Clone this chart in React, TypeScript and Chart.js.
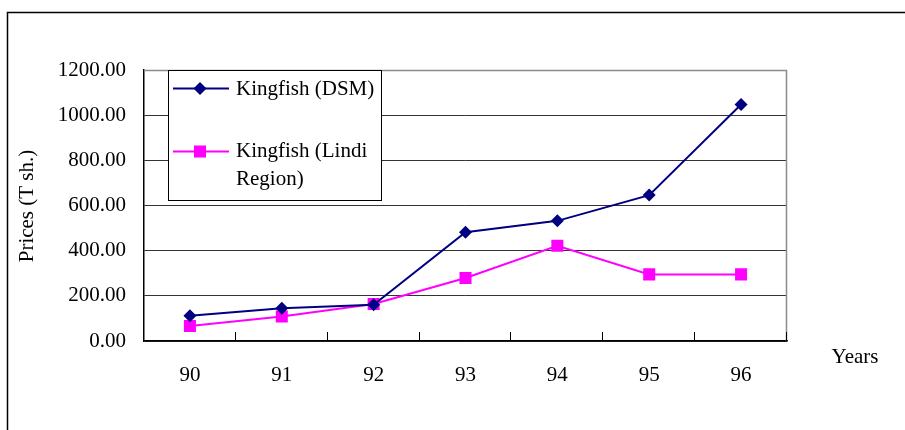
import React, { useEffect, useRef } from "react";
import { Chart, registerables } from "chart.js";

Chart.register(...registerables);

const years = ["90", "91", "92", "93", "94", "95", "96"];
const dsmPrices = [112, 145, 160, 482, 532, 646, 1047];
const lindiPrices = [66, 108, 164, 279, 422, 295, 295];
const yMin = 0;
const yMax = 1200;
const yStep = 200;
const seriesNames = ["Kingfish (DSM)", "Kingfish (Lindi Region)"];
const legendLines = [["Kingfish (DSM)"], ["Kingfish (Lindi", "Region)"]];
const yTitle = "Prices (T sh.)";
const xTitle = "Years";

const FONT = "'Liberation Serif', 'Times New Roman', serif";
const FS = 21;
const NAVY = "#000080";
const MAGENTA = "#FF00FF";

function drawMarker(ctx: CanvasRenderingContext2D, style: string, r: number, x: number, y: number, color: string) {
  ctx.fillStyle = color;
  ctx.beginPath();
  if (style === "rectRot") {
    ctx.moveTo(x, y - r);
    ctx.lineTo(x + r, y);
    ctx.lineTo(x, y + r);
    ctx.lineTo(x - r, y);
    ctx.closePath();
  } else {
    const s = r * Math.SQRT1_2;
    ctx.rect(x - s, y - s, 2 * s, 2 * s);
  }
  ctx.fill();
}

const decorPlugin = {
  id: "decor",
  beforeDraw(chart: any) {
    const ctx = chart.ctx;
    ctx.save();
    ctx.fillStyle = "#fff";
    ctx.fillRect(0, 0, chart.width, chart.height);
    ctx.strokeStyle = "#000";
    ctx.lineWidth = 1.5;
    ctx.beginPath();
    ctx.moveTo(7.5, chart.height);
    ctx.lineTo(7.5, 12.5);
    ctx.lineTo(chart.width, 12.5);
    ctx.stroke();
    ctx.restore();
  },
  beforeDatasetsDraw(chart: any) {
    const ctx = chart.ctx;
    const a = chart.chartArea;
    ctx.save();
    ctx.strokeStyle = "#8c8c8c";
    ctx.lineWidth = 1.5;
    ctx.beginPath();
    ctx.moveTo(a.left, a.top + 0.5);
    ctx.lineTo(a.right - 0.5, a.top + 0.5);
    ctx.lineTo(a.right - 0.5, a.bottom);
    ctx.stroke();
    const n = years.length;
    const w = (a.right - a.left) / n;
    ctx.strokeStyle = "#000";
    ctx.lineWidth = 1;
    ctx.beginPath();
    for (let i = 1; i <= n; i++) {
      const x = Math.round(a.left + i * w) - 0.5;
      ctx.moveTo(x, a.bottom - 9);
      ctx.lineTo(x, a.bottom);
    }
    ctx.stroke();
    ctx.restore();
  },
  afterDraw(chart: any) {
    const ctx = chart.ctx;
    const a = chart.chartArea;
    ctx.save();
    const lx = 168.5, ly = a.top + 0.5, lw = 213, lh = 130;
    ctx.fillStyle = "#fff";
    ctx.fillRect(lx, ly, lw, lh);
    ctx.strokeStyle = "#000";
    ctx.lineWidth = 1;
    ctx.strokeRect(lx, ly, lw, lh);

    const entries = [
      { color: NAVY, style: "rectRot", radius: 6.5, y: 88.5, lines: legendLines[0], baselines: [94.5] },
      { color: MAGENTA, style: "rect", radius: 8.5, y: 151.5, lines: legendLines[1], baselines: [157, 185] },
    ];
    entries.forEach((e) => {
      ctx.strokeStyle = e.color;
      ctx.lineWidth = 2;
      ctx.beginPath();
      ctx.moveTo(173, e.y);
      ctx.lineTo(229, e.y);
      ctx.stroke();
      drawMarker(ctx, e.style, e.radius, 200, e.y, e.color);
      ctx.fillStyle = "#000";
      ctx.font = `${FS}px ${FONT}`;
      ctx.textAlign = "left";
      ctx.textBaseline = "alphabetic";
      e.lines.forEach((t: string, i: number) => ctx.fillText(t, 236, e.baselines[i]));
    });

    ctx.fillStyle = "#000";
    ctx.font = `${FS}px ${FONT}`;
    ctx.textAlign = "center";
    ctx.textBaseline = "middle";
    ctx.save();
    ctx.translate(27, 206);
    ctx.rotate(-Math.PI / 2);
    ctx.fillText(yTitle, 0, 0);
    ctx.restore();
    ctx.fillText(xTitle, 855, 357);
    ctx.restore();
  },
};

export default function App() {
  const ref = useRef<HTMLCanvasElement | null>(null);
  useEffect(() => {
    if (!ref.current) return;
    const chart = new Chart(ref.current, {
      type: "line",
      data: {
        labels: years,
        datasets: [
          {
            label: seriesNames[0],
            data: dsmPrices,
            borderColor: NAVY,
            backgroundColor: NAVY,
            borderWidth: 2,
            pointStyle: "rectRot",
            pointRadius: 6.5,
            pointBorderWidth: 0,
            pointBackgroundColor: NAVY,
            tension: 0,
          },
          {
            label: seriesNames[1],
            data: lindiPrices,
            borderColor: MAGENTA,
            backgroundColor: MAGENTA,
            borderWidth: 2,
            pointStyle: "rect",
            pointRadius: 8.5,
            pointBorderWidth: 0,
            pointBackgroundColor: MAGENTA,
            tension: 0,
          },
        ],
      },
      options: {
        responsive: false,
        animation: false,
        layout: { padding: { left: 0, top: 70, right: 118, bottom: 0 } },
        plugins: { legend: { display: false }, tooltip: { enabled: false } },
        scales: {
          x: {
            type: "category",
            offset: true,
            grid: { offset: true, drawOnChartArea: false, drawTicks: false },
            border: { color: "#000", width: 1.5 },
            ticks: { color: "#000", font: { family: FONT, size: FS }, padding: 22, maxRotation: 0 },
            afterFit: (s: any) => { s.height = 89; },
          },
          y: {
            min: yMin,
            max: yMax,
            grid: {
              drawTicks: false,
              color: (c: any) => (c.tick && c.tick.value === yMax ? "rgba(0,0,0,0)" : "#333"),
              lineWidth: 1,
            },
            border: { color: "#000", width: 1.5 },
            ticks: {
              stepSize: yStep,
              color: "#000",
              font: { family: FONT, size: FS },
              padding: 18,
              callback: (v: any) => Number(v).toFixed(2),
            },
            afterFit: (s: any) => { s.width = 144; },
          },
        },
      },
      plugins: [decorPlugin],
    } as any);
    return () => chart.destroy();
  }, []);
  return (
    <div style={{ position: "absolute", left: 0, top: 0, width: 905, height: 430 }}>
      <canvas ref={ref} width={905} height={430} style={{ display: "block" }} />
    </div>
  );
}
